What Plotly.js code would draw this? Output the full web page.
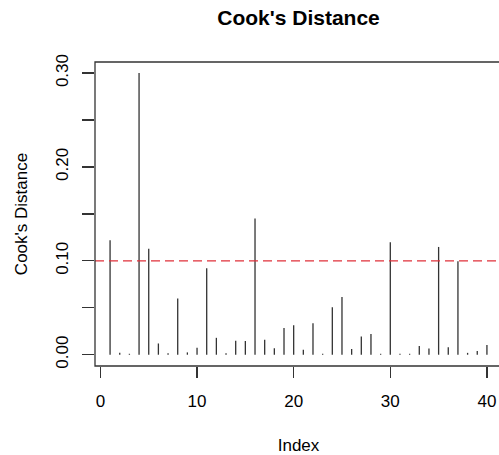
<!DOCTYPE html>
<html>
<head>
<meta charset="utf-8">
<script src="https://cdn.plot.ly/plotly-3.0.1.min.js"></script>
<style>
html,body{margin:0;padding:0;background:#fff;overflow:hidden;}
#chart{width:503px;height:455px;}
</style>
</head>
<body>
<div id="chart"></div>
<script>
// Cook's distance per observation (index 1..40)
const obsIndex = Array.from({length: 40}, (_, i) => i + 1);
const cooksD = [0.122, 0.002, 0.001, 0.300, 0.113, 0.012, 0.0015, 0.060, 0.0025, 0.0074,
                0.092, 0.018, 0.0015, 0.0148, 0.0145, 0.145, 0.016, 0.007, 0.0286, 0.0314,
                0.0053, 0.0336, 0.001, 0.0505, 0.0614, 0.006, 0.0195, 0.022, 0.001, 0.1197,
                0.001, 0.001, 0.0092, 0.0067, 0.1148, 0.008, 0.0995, 0.002, 0.004, 0.0103];
const threshold = 0.10;
const xTickVals = [0, 10, 20, 30, 40];
const yTickVals = [0, 0.05, 0.10, 0.15, 0.20, 0.25, 0.30];
const yTickText = ['0.00', '', '0.10', '', '0.20', '', '0.30'];

// build vertical "h" spikes from the data
const hx = [], hy = [];
obsIndex.forEach((x, i) => { hx.push(x, x, null); hy.push(0, cooksD[i], null); });

const font = 'Liberation Sans, Arial, Helvetica, sans-serif';
const traces = [{
  type: 'scatter', mode: 'lines', x: hx, y: hy,
  line: {color: '#333333', width: 1.3},
  hoverinfo: 'skip', showlegend: false, cliponaxis: false
}];

const layout = {
  width: 503, height: 455,
  margin: {l: 95, r: 1, t: 62, b: 89, pad: 0},
  paper_bgcolor: '#fff', plot_bgcolor: '#fff',
  font: {family: font, color: '#000', size: 17},
  showlegend: false,
  title: {text: "Cook's Distance", font: {family: font, size: 21, weight: 'bold', color: '#000'},
          x: 0.5, xref: 'paper', xanchor: 'center', y: 0.962, yanchor: 'middle'},
  xaxis: {
    range: [-0.56, 41.56], showgrid: false, zeroline: false, showline: false,
    tickmode: 'array', tickvals: xTickVals, ticktext: xTickVals.map(String),
    ticks: 'outside', ticklen: 11, tickwidth: 1.2, tickcolor: '#333',
    tickfont: {size: 17}, ticklabelstandoff: 9,
    title: {text: 'Index', font: {size: 17}, standoff: 30}
  },
  yaxis: {
    range: [-0.012, 0.3118], showgrid: false, zeroline: false, showline: false,
    tickmode: 'array', tickvals: yTickVals, ticktext: yTickText,
    ticks: 'outside', ticklen: 12, tickwidth: 1.2, tickcolor: '#333',
    tickangle: -90, tickfont: {size: 17}, ticklabelstandoff: 7,
    title: {text: "Cook's Distance", font: {size: 17}, standoff: 21}
  },
  shapes: [
    {type: 'line', xref: 'paper', yref: 'y', x0: 0, x1: 1, y0: threshold, y1: threshold,
     line: {color: '#e0303a', width: 1.4, dash: '9px,5px'}},
    {type: 'rect', xref: 'paper', yref: 'paper', x0: 0, x1: 1, y0: 0, y1: 1,
     line: {color: '#333', width: 1.3}, fillcolor: 'rgba(0,0,0,0)'}
  ]
};

Plotly.newPlot('chart', traces, layout, {staticPlot: true, displayModeBar: false});
</script>
</body>
</html>
